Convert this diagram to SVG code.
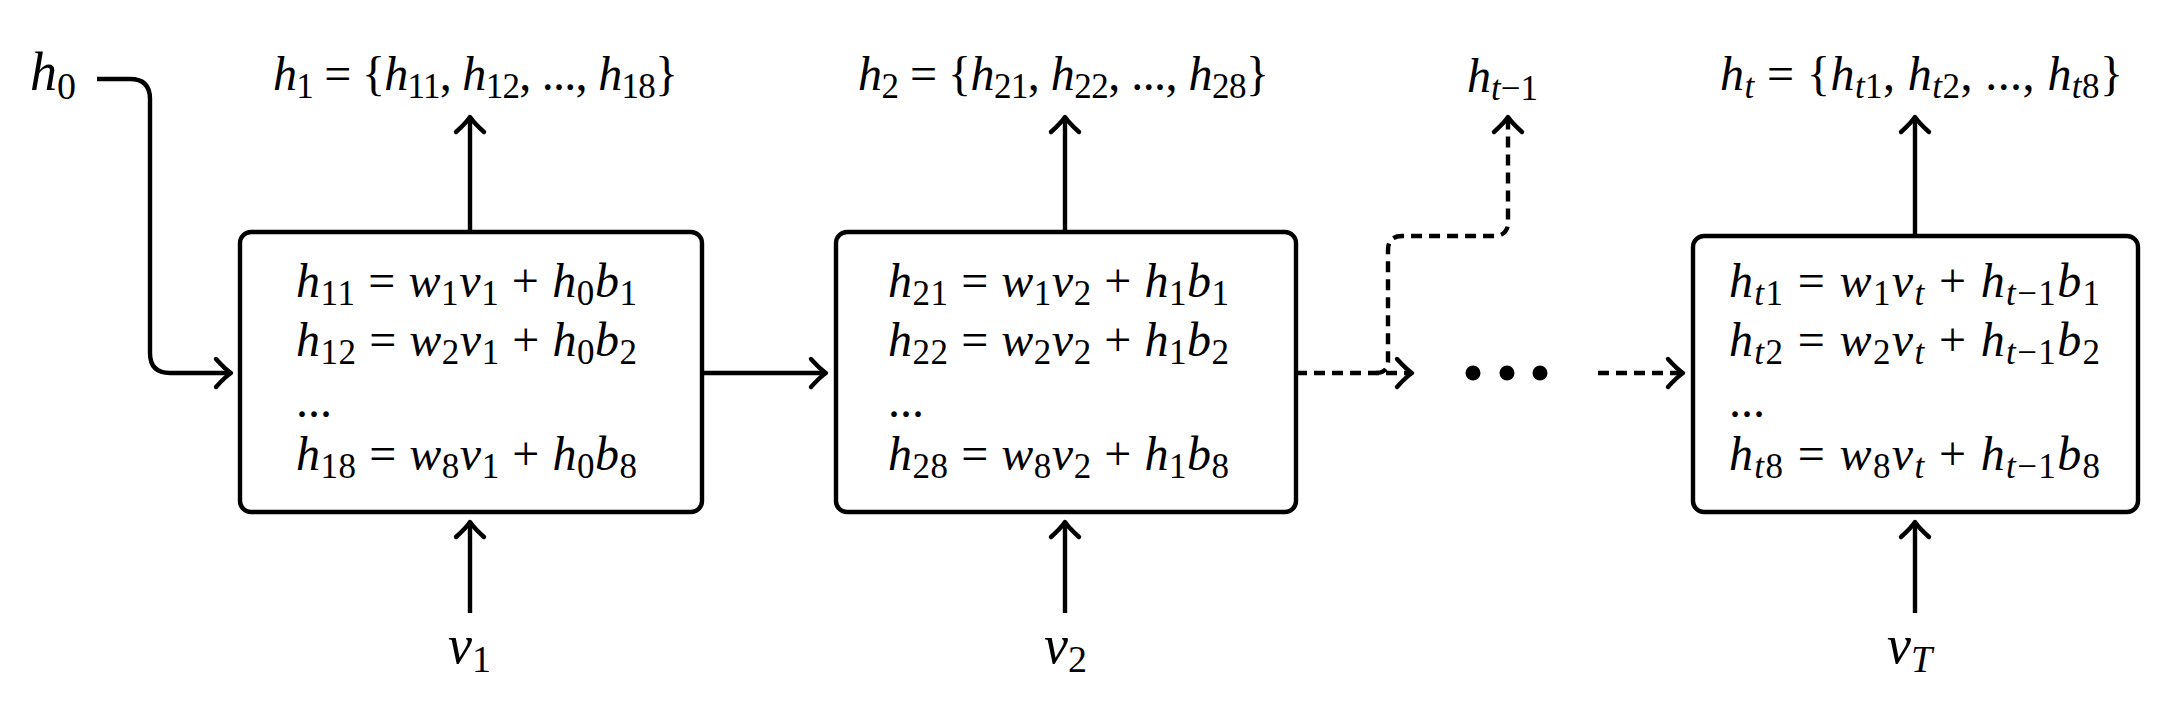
<svg xmlns="http://www.w3.org/2000/svg" width="2172" height="724" viewBox="0 0 2172 724">
<style>
text{font-family:"Liberation Serif","Tinos","DejaVu Serif",serif;fill:#000}
.eq{font-size:48px}
.lb{font-size:48px}
.big{font-size:54px}
.i{font-style:italic}
.s{font-size:35px}
.sb{font-size:38px}
.box{fill:#fff;stroke:#000;stroke-width:4.4}
.ln{fill:none;stroke:#000;stroke-width:4.4}
.dash{stroke-dasharray:11 7}
</style>
<defs>
<marker id="ah" markerUnits="userSpaceOnUse" markerWidth="30" markerHeight="30" viewBox="-18 -15 22 30" refX="0" refY="0" orient="auto" overflow="visible">
<path d="M -15 -14 Q -6 -4 0 0 Q -6 4 -15 14" fill="none" stroke="#000" stroke-width="4.4" stroke-linecap="round" stroke-linejoin="round"/>
</marker>
</defs>
<rect width="2172" height="724" fill="#fff"/>

<g id="connectors">
<path class="ln" d="M 97 79 H 130 Q 150 79 150 99 V 353 Q 150 373 170 373 H 231" marker-end="url(#ah)"/>
<path class="ln" d="M 470 232 V 117" marker-end="url(#ah)"/>
<path class="ln" d="M 470 613 V 522" marker-end="url(#ah)"/>
<path class="ln" d="M 702 373 H 826" marker-end="url(#ah)"/>
<path class="ln" d="M 1065 232 V 117" marker-end="url(#ah)"/>
<path class="ln" d="M 1065 613 V 522" marker-end="url(#ah)"/>
<path class="ln dash" d="M 1296 373 H 1412" marker-end="url(#ah)"/>
<path class="ln dash" d="M 1376 373 Q 1388 373 1388 361 V 250 Q 1388 236 1402 236 H 1494 Q 1508 236 1508 222 V 117" marker-end="url(#ah)"/>
<path class="ln dash" d="M 1598 373 H 1683" marker-end="url(#ah)"/>
<path class="ln" d="M 1915 236 V 117" marker-end="url(#ah)"/>
<path class="ln" d="M 1915 613 V 522" marker-end="url(#ah)"/>
</g>

<g id="ellipsis">
<circle cx="1473" cy="373" r="7.5"/>
<circle cx="1507" cy="373" r="7.5"/>
<circle cx="1540" cy="373" r="7.5"/>
</g>

<g id="h0">
<text class="big" x="30" y="90"><tspan class="i">h</tspan><tspan class="sb" dy="9">0</tspan></text>
</g>

<g id="cell1">
<rect class="box" x="240" y="232" width="462" height="280" rx="11"/>
<text class="eq" x="296" y="297" textLength="341"><tspan class="i">h</tspan><tspan class="s" dy="8">11</tspan><tspan dy="-8"> = </tspan><tspan class="i">w</tspan><tspan class="s" dy="8">1</tspan><tspan class="i" dy="-8">v</tspan><tspan class="s" dy="8">1</tspan><tspan dy="-8"> + </tspan><tspan class="i">h</tspan><tspan class="s" dy="8">0</tspan><tspan class="i" dy="-8">b</tspan><tspan class="s" dy="8">1</tspan></text>
<text class="eq" x="296" y="356" textLength="341"><tspan class="i">h</tspan><tspan class="s" dy="8">12</tspan><tspan dy="-8"> = </tspan><tspan class="i">w</tspan><tspan class="s" dy="8">2</tspan><tspan class="i" dy="-8">v</tspan><tspan class="s" dy="8">1</tspan><tspan dy="-8"> + </tspan><tspan class="i">h</tspan><tspan class="s" dy="8">0</tspan><tspan class="i" dy="-8">b</tspan><tspan class="s" dy="8">2</tspan></text>
<text class="eq" x="296" y="417">...</text>
<text class="eq" x="296" y="470" textLength="341"><tspan class="i">h</tspan><tspan class="s" dy="8">18</tspan><tspan dy="-8"> = </tspan><tspan class="i">w</tspan><tspan class="s" dy="8">8</tspan><tspan class="i" dy="-8">v</tspan><tspan class="s" dy="8">1</tspan><tspan dy="-8"> + </tspan><tspan class="i">h</tspan><tspan class="s" dy="8">0</tspan><tspan class="i" dy="-8">b</tspan><tspan class="s" dy="8">8</tspan></text>
</g>

<g id="out1">
<text class="lb" x="273" y="90" textLength="405"><tspan class="i">h</tspan><tspan class="s" dy="8">1</tspan><tspan dy="-8"> = {</tspan><tspan class="i">h</tspan><tspan class="s" dy="8">11</tspan><tspan dy="-8">, </tspan><tspan class="i">h</tspan><tspan class="s" dy="8">12</tspan><tspan dy="-8">, ..., </tspan><tspan class="i">h</tspan><tspan class="s" dy="8">18</tspan><tspan dy="-8">}</tspan></text>
</g>

<g id="in1">
<text class="big" x="448" y="663"><tspan class="i">v</tspan><tspan class="sb" dy="9">1</tspan></text>
</g>

<g id="cell2">
<rect class="box" x="836" y="232" width="460" height="280" rx="11"/>
<text class="eq" x="888" y="297" textLength="341"><tspan class="i">h</tspan><tspan class="s" dy="8">21</tspan><tspan dy="-8"> = </tspan><tspan class="i">w</tspan><tspan class="s" dy="8">1</tspan><tspan class="i" dy="-8">v</tspan><tspan class="s" dy="8">2</tspan><tspan dy="-8"> + </tspan><tspan class="i">h</tspan><tspan class="s" dy="8">1</tspan><tspan class="i" dy="-8">b</tspan><tspan class="s" dy="8">1</tspan></text>
<text class="eq" x="888" y="356" textLength="341"><tspan class="i">h</tspan><tspan class="s" dy="8">22</tspan><tspan dy="-8"> = </tspan><tspan class="i">w</tspan><tspan class="s" dy="8">2</tspan><tspan class="i" dy="-8">v</tspan><tspan class="s" dy="8">2</tspan><tspan dy="-8"> + </tspan><tspan class="i">h</tspan><tspan class="s" dy="8">1</tspan><tspan class="i" dy="-8">b</tspan><tspan class="s" dy="8">2</tspan></text>
<text class="eq" x="888" y="417">...</text>
<text class="eq" x="888" y="470" textLength="341"><tspan class="i">h</tspan><tspan class="s" dy="8">28</tspan><tspan dy="-8"> = </tspan><tspan class="i">w</tspan><tspan class="s" dy="8">8</tspan><tspan class="i" dy="-8">v</tspan><tspan class="s" dy="8">2</tspan><tspan dy="-8"> + </tspan><tspan class="i">h</tspan><tspan class="s" dy="8">1</tspan><tspan class="i" dy="-8">b</tspan><tspan class="s" dy="8">8</tspan></text>
</g>

<g id="out2">
<text class="lb" x="858" y="90" textLength="411"><tspan class="i">h</tspan><tspan class="s" dy="8">2</tspan><tspan dy="-8"> = {</tspan><tspan class="i">h</tspan><tspan class="s" dy="8">21</tspan><tspan dy="-8">, </tspan><tspan class="i">h</tspan><tspan class="s" dy="8">22</tspan><tspan dy="-8">, ..., </tspan><tspan class="i">h</tspan><tspan class="s" dy="8">28</tspan><tspan dy="-8">}</tspan></text>
</g>

<g id="in2">
<text class="big" x="1044" y="663"><tspan class="i">v</tspan><tspan class="sb" dy="9">2</tspan></text>
</g>

<g id="prev">
<text class="lb" x="1467" y="92"><tspan class="i">h</tspan><tspan class="s" dy="8"><tspan class="i">t</tspan>−1</tspan></text>
</g>

<g id="cellT">
<rect class="box" x="1693" y="236" width="445" height="276" rx="11"/>
<text class="eq" x="1729" y="297" textLength="371"><tspan class="i">h</tspan><tspan class="s" dy="8"><tspan class="i">t</tspan>1</tspan><tspan dy="-8"> = </tspan><tspan class="i">w</tspan><tspan class="s" dy="8">1</tspan><tspan class="i" dy="-8">v</tspan><tspan class="s i" dy="8">t</tspan><tspan dy="-8"> + </tspan><tspan class="i">h</tspan><tspan class="s" dy="8"><tspan class="i">t</tspan>−1</tspan><tspan class="i" dy="-8">b</tspan><tspan class="s" dy="8">1</tspan></text>
<text class="eq" x="1729" y="356" textLength="371"><tspan class="i">h</tspan><tspan class="s" dy="8"><tspan class="i">t</tspan>2</tspan><tspan dy="-8"> = </tspan><tspan class="i">w</tspan><tspan class="s" dy="8">2</tspan><tspan class="i" dy="-8">v</tspan><tspan class="s i" dy="8">t</tspan><tspan dy="-8"> + </tspan><tspan class="i">h</tspan><tspan class="s" dy="8"><tspan class="i">t</tspan>−1</tspan><tspan class="i" dy="-8">b</tspan><tspan class="s" dy="8">2</tspan></text>
<text class="eq" x="1729" y="417">...</text>
<text class="eq" x="1729" y="470" textLength="371"><tspan class="i">h</tspan><tspan class="s" dy="8"><tspan class="i">t</tspan>8</tspan><tspan dy="-8"> = </tspan><tspan class="i">w</tspan><tspan class="s" dy="8">8</tspan><tspan class="i" dy="-8">v</tspan><tspan class="s i" dy="8">t</tspan><tspan dy="-8"> + </tspan><tspan class="i">h</tspan><tspan class="s" dy="8"><tspan class="i">t</tspan>−1</tspan><tspan class="i" dy="-8">b</tspan><tspan class="s" dy="8">8</tspan></text>
</g>

<g id="outT">
<text class="lb" x="1720" y="90" textLength="403"><tspan class="i">h</tspan><tspan class="s i" dy="8">t</tspan><tspan dy="-8"> = {</tspan><tspan class="i">h</tspan><tspan class="s" dy="8"><tspan class="i">t</tspan>1</tspan><tspan dy="-8">, </tspan><tspan class="i">h</tspan><tspan class="s" dy="8"><tspan class="i">t</tspan>2</tspan><tspan dy="-8">, ..., </tspan><tspan class="i">h</tspan><tspan class="s" dy="8"><tspan class="i">t</tspan>8</tspan><tspan dy="-8">}</tspan></text>
</g>

<g id="inT">
<text class="big" x="1887" y="663"><tspan class="i">v</tspan><tspan class="sb i" dy="9">T</tspan></text>
</g>
</svg>
